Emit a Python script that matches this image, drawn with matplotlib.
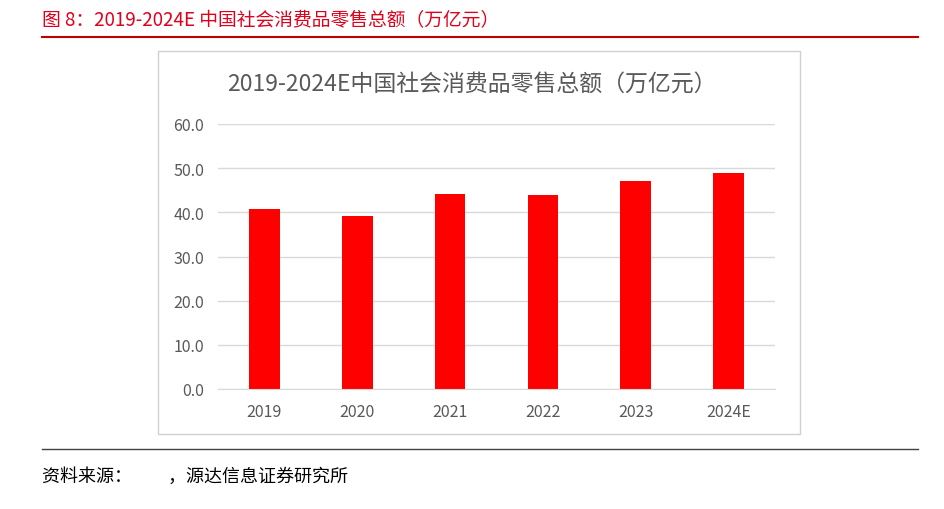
import matplotlib
matplotlib.use("Agg")
import matplotlib.pyplot as plt
from matplotlib.patches import Rectangle
from matplotlib.lines import Line2D

plt.rcParams['font.family'] = ['Noto Sans CJK SC', 'DejaVu Sans']

categories = ["2019", "2020", "2021", "2022", "2023", "2024E"]
values = [40.8, 39.2, 44.1, 43.9, 47.1, 48.9]
yticks = [0, 10, 20, 30, 40, 50, 60]

W, H = 945, 510
fig = plt.figure(figsize=(W/100, H/100), dpi=100)

def fx(x): return x / W
def fy(y): return 1 - y / H

# header
fig.text(fx(42), fy(21), "图 8：2019-2024E 中国社会消费品零售总额（万亿元）", color="#E0001B",
         fontsize=13.5, fontweight="medium", va="center", ha="left")
fig.add_artist(Line2D([fx(42), fx(918)], [fy(38), fy(38)], color="#C00000", lw=1.5))
# inner box
fig.add_artist(Rectangle((fx(158), fy(435)), fx(800-158), (435-52)/H, fill=False,
                         edgecolor="#D0D0D0", lw=1))
fig.text(fx(472), fy(84), "2019-2024E中国社会消费品零售总额（万亿元）", color="#595959",
         fontsize=16.5, ha="center", va="center")

ax = fig.add_axes([fx(218), fy(390), fx(775-218), (390-125)/H])
x = range(len(categories))
ax.bar(x, values, width=0.33, color="#FF0000")
ax.set_ylim(0, 60)
ax.set_xlim(-0.5, len(categories)-0.5)
ax.set_yticks(yticks)
ax.set_yticklabels([f"{v:.1f}" for v in yticks], color="#595959", fontsize=11.5)
ax.set_xticks(list(x))
ax.set_xticklabels(categories, color="#595959", fontsize=11.5)
ax.grid(axis="y", color="#D9D9D9", lw=1)
ax.set_axisbelow(True)
for s in ["top", "right", "left"]:
    ax.spines[s].set_visible(False)
ax.spines["bottom"].set_color("#D9D9D9")
ax.tick_params(length=0, pad=10)

fig.add_artist(Line2D([fx(42), fx(918)], [fy(450), fy(450)], color="#404040", lw=1))
fig.text(fx(42), fy(477), "资料来源：         ，源达信息证券研究所", fontsize=13,
         va="center", ha="left", color="#000000")

fig.savefig("out.png", dpi=100)
